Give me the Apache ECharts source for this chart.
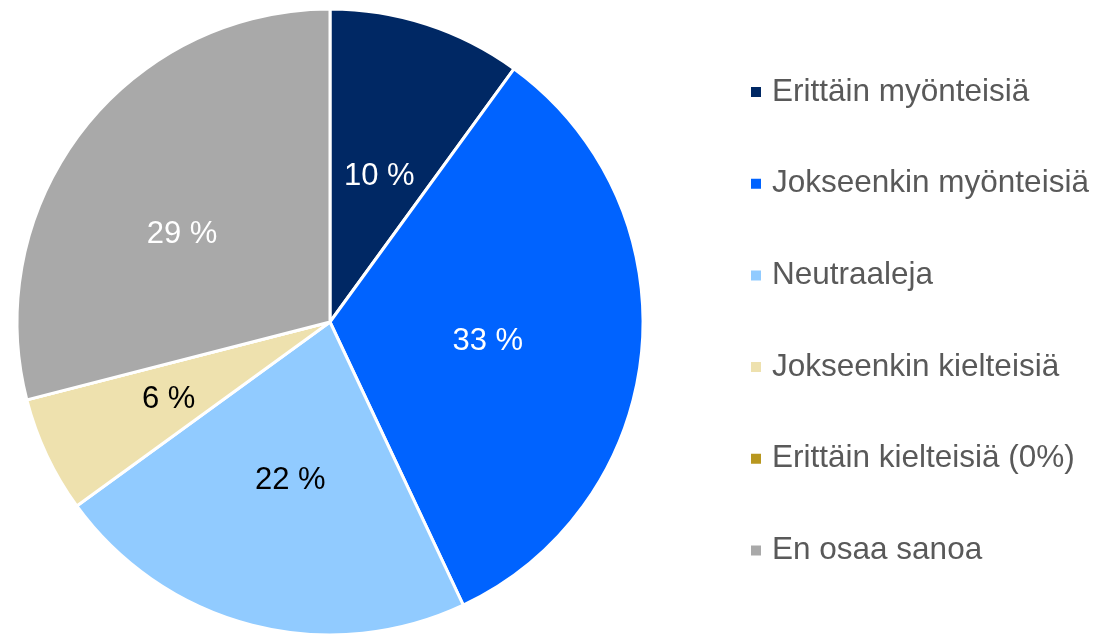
<!DOCTYPE html>
<html>
<head>
<meta charset="utf-8">
<script src="https://cdn.jsdelivr.net/npm/echarts@6/dist/echarts.min.js"></script>
<style>
html,body{margin:0;padding:0;background:#fff;}
#chart{width:1094px;height:635px;}
</style>
</head>
<body>
<div id="chart"></div>
<script>
const categories = ['Erittäin myönteisiä', 'Jokseenkin myönteisiä', 'Neutraaleja', 'Jokseenkin kielteisiä', 'Erittäin kielteisiä (0%)', 'En osaa sanoa'];
const values = [10, 33, 22, 6, 0, 29];
const colors = ['#002864', '#0063FF', '#91CBFF', '#EEE1AE', '#B8971F', '#A9A9A9'];
const labelColors = ['#ffffff', '#ffffff', '#000000', '#000000', '#000000', '#ffffff'];
// label nudges (px) to mimic the original label placement
const labelOffsets = [[0, 6], [-1, 4], [0, 4], [-17, 10], [0, 0], [-22, 10]];

const chart = echarts.init(document.getElementById('chart'));
chart.setOption({
  animation: false,
  color: colors,
  legend: {
    orient: 'vertical',
    left: 749,
    top: 76,
    padding: 0,
    itemWidth: 12,
    itemHeight: 12,
    itemGap: 59.7,
    icon: 'rect',
    textStyle: { fontFamily: 'Liberation Sans, Arial', fontSize: 31.5, color: '#595959', lineHeight: 32, padding: [0, 0, 0, 5] },
    data: categories
  },
  series: [{
    type: 'pie',
    center: [330, 322],
    radius: [0, 313],
    startAngle: 90,
    clockwise: true,
    stillShowZeroSum: true,
    itemStyle: { borderColor: '#ffffff', borderWidth: 3 },
    label: {
      position: 'inside',
      fontFamily: 'Liberation Sans, Arial',
      fontSize: 31,
      formatter: p => p.value === 0 ? '' : p.value + ' %'
    },
    labelLine: { show: false },
    data: categories.map((c, i) => ({
      name: c,
      value: values[i],
      label: { color: labelColors[i], offset: labelOffsets[i] }
    }))
  }]
});
</script>
</body>
</html>
